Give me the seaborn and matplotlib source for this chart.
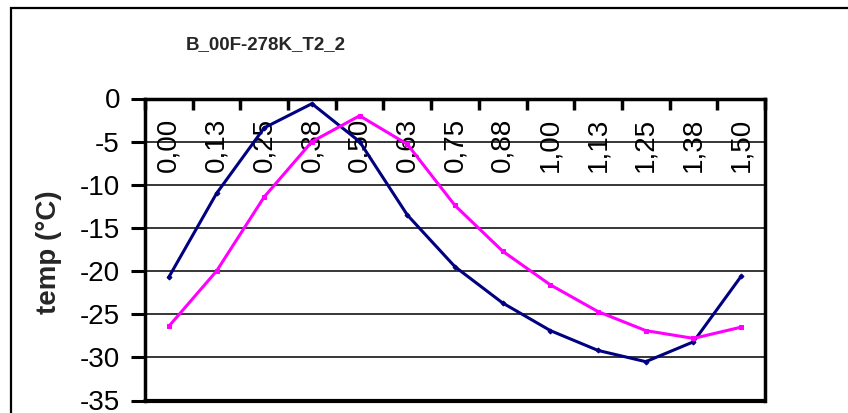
import matplotlib
matplotlib.use("Agg")
import matplotlib.pyplot as plt
import seaborn as sns
import pandas as pd
from matplotlib.patches import Rectangle

# Categories (position labels) and the two temperature traces
categories = ["0,00", "0,13", "0,25", "0,38", "0,50", "0,63", "0,75",
              "0,88", "1,00", "1,13", "1,25", "1,38", "1,50"]
temp_navy = [-20.7, -11.0, -3.4, -0.6, -5.0, -13.5, -19.5,
             -23.7, -26.9, -29.2, -30.5, -28.2, -20.6]
temp_magenta = [-26.4, -20.0, -11.4, -5.0, -2.0, -5.3, -12.4,
                -17.7, -21.6, -24.7, -26.9, -27.8, -26.5]
y_ticks = [0, -5, -10, -15, -20, -25, -30, -35]
title = "B_00F-278K_T2_2"
y_label = "temp (°C)"

sns.set_theme(style="white")
plt.rcParams["font.family"] = ["Liberation Sans", "DejaVu Sans"]
plt.rcParams["axes.unicode_minus"] = False

W, H = 848, 413
fig = plt.figure(figsize=(W / 100, H / 100), dpi=100)
fig.patch.set_facecolor("white")

# Outer chart frame (continues past the right and bottom edges)
fig.patches.append(Rectangle((11 / W, -0.2), 2.0, 1 - 8 / H + 0.2,
                             transform=fig.transFigure, fill=False,
                             edgecolor="black", linewidth=1.6))

left, right = 145 / W, 765 / W
top, bottom = 1 - 98.5 / H, 1 - 400.5 / H
ax = fig.add_axes([left, bottom, right - left, top - bottom])
ax.set_facecolor("none")

pos = list(range(len(categories)))
df = pd.DataFrame({"pos": pos, "navy": temp_navy, "magenta": temp_magenta})

sns.lineplot(data=df, x="pos", y="navy", ax=ax, color="#000080",
             linewidth=2.2, marker="D", markersize=2.5,
             markeredgecolor="#000080", zorder=4)
sns.lineplot(data=df, x="pos", y="magenta", ax=ax, color="#FF00FF",
             linewidth=2.2, marker="s", markersize=3.5,
             markeredgecolor="#FF00FF", zorder=4)

ax.set_xlim(-0.5, len(categories) - 0.5)
ax.set_ylim(-35, 0)

# Horizontal grid lines
for v in y_ticks[1:-1]:
    ax.axhline(v, color="black", linewidth=1.1, zorder=1)

# Y axis
ax.set_yticks(y_ticks)
ax.set_yticklabels([str(v) for v in y_ticks], fontsize=20)
ax.tick_params(axis="y", direction="out", length=10, width=2.2,
               color="black", pad=8, labelcolor="black", left=True)

# Category axis sits on y = 0, ticks between categories
ax.spines["bottom"].set_position(("data", 0))
ax.set_xticks([p - 0.5 for p in pos] + [len(categories) - 0.5])
ax.set_xticklabels([])
ax.tick_params(axis="x", which="major", direction="out", length=8,
               width=2.5, color="black", bottom=True)
ax.set_xticks(pos, minor=True)
ax.set_xticklabels(categories, minor=True, rotation=90, fontsize=20,
                   va="top", ha="center")
ax.tick_params(axis="x", which="minor", length=0, pad=14, labelcolor="black")

for name in ["left", "bottom", "right"]:
    ax.spines[name].set_visible(True)
    ax.spines[name].set_color("black")
    ax.spines[name].set_linewidth(2.5)
ax.spines["top"].set_visible(False)
ax.axhline(-35, color="black", linewidth=3, zorder=5, clip_on=False)

ax.set_xlabel("")
ax.set_ylabel("")

fig.text(49 / W, 1 - 252 / H, y_label, rotation=90, ha="center",
         va="center", fontsize=20, fontweight="bold")
fig.text(266 / W, 1 - 45 / H, title, ha="center", va="center",
         fontsize=13.5, fontweight="bold")

fig.savefig("out.png", dpi=100, facecolor="white")
